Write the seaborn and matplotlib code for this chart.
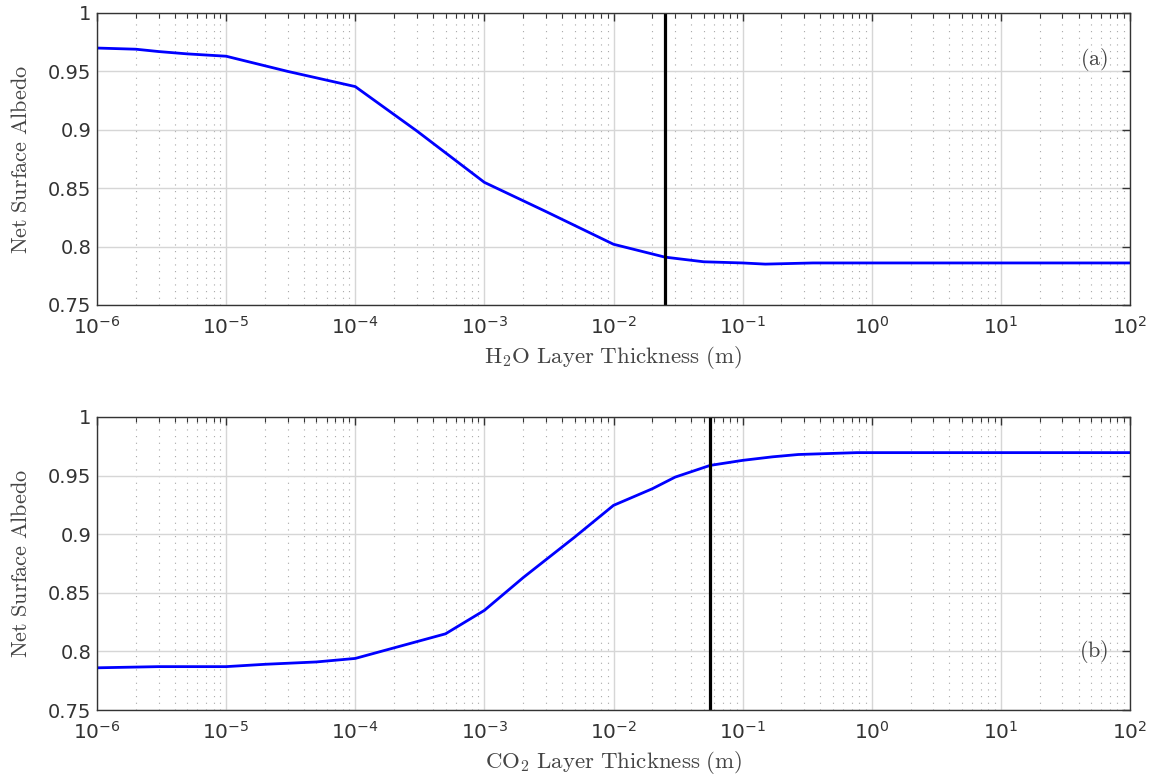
import numpy as np
import pandas as pd
import matplotlib
matplotlib.use("Agg")
import matplotlib.pyplot as plt
import matplotlib.ticker as mticker
import seaborn as sns

# --- Data ---
h2o_thickness = [1e-6, 2e-6, 3e-6, 5e-6, 1e-5, 3e-5, 1e-4, 3e-4, 1e-3, 3e-3, 1e-2,
                 2.5e-2, 5e-2, 1e-1, 1.5e-1, 3.5e-1, 1.0, 10.0, 100.0]
h2o_albedo = [0.970, 0.969, 0.967, 0.965, 0.963, 0.950, 0.937, 0.899, 0.855, 0.830, 0.802,
              0.791, 0.787, 0.786, 0.785, 0.786, 0.786, 0.786, 0.786]

co2_thickness = [1e-6, 3e-6, 1e-5, 2e-5, 5e-5, 1e-4, 5e-4, 1e-3, 2e-3, 5e-3, 1e-2,
                 2e-2, 3e-2, 5.6e-2, 1e-1, 1.7e-1, 2.7e-1, 7.7e-1, 1.0, 10.0, 100.0]
co2_albedo = [0.786, 0.787, 0.787, 0.789, 0.791, 0.794, 0.815, 0.835, 0.863, 0.8975, 0.9246,
              0.9388, 0.9487, 0.9587, 0.963, 0.966, 0.968, 0.9696, 0.9696, 0.9696, 0.9696]

h2o_marker = 0.025
co2_marker = 0.056

xlabels = [r"$\mathrm{H_2O\ Layer\ Thickness\ (m)}$", r"$\mathrm{CO_2\ Layer\ Thickness\ (m)}$"]
ylabel = r"$\mathrm{Net\ Surface\ Albedo}$"
panel_tags = [r"$\mathrm{(a)}$", r"$\mathrm{(b)}$"]
xtick_exponents = [-6, -5, -4, -3, -2, -1, 0, 1, 2]
yticks = [0.75, 0.8, 0.85, 0.9, 0.95, 1.0]
ytick_labels = ["0.75", "0.8", "0.85", "0.9", "0.95", "1"]

sns.set_style("white")
plt.rcParams["font.family"] = ["DejaVu Sans"]

fig = plt.figure(figsize=(11.61, 7.8), dpi=100)
ax1 = fig.add_axes([97/1161, 1-305/780, 1033/1161, 292/780])
ax2 = fig.add_axes([97/1161, 1-710/780, 1033/1161, 293/780])

datasets = [
    (ax1, h2o_thickness, h2o_albedo, h2o_marker, xlabels[0], panel_tags[0], 0.84),
    (ax2, co2_thickness, co2_albedo, co2_marker, xlabels[1], panel_tags[1], 0.20),
]

major_x = [10.0 ** e for e in xtick_exponents]
major_xl = [r"$10^{%d}$" % e for e in xtick_exponents]
minor_x = [m * 10.0 ** e for e in xtick_exponents[:-1] for m in range(2, 10)]

for ax, xs, ys, marker, xl, tag, tagy in datasets:
    df = pd.DataFrame({"x": xs, "y": ys})
    sns.lineplot(data=df, x="x", y="y", ax=ax, color="#0000ff", linewidth=2.0,
                 estimator=None, sort=True)
    ax.axvline(marker, color="black", linewidth=2.3)
    ax.set_xscale("log")
    ax.set_xlim(1e-6, 1e2)
    ax.set_ylim(0.75, 1.0)
    ax.xaxis.set_major_locator(mticker.FixedLocator(major_x))
    ax.xaxis.set_major_formatter(mticker.FixedFormatter(major_xl))
    ax.xaxis.set_minor_locator(mticker.FixedLocator(minor_x))
    ax.xaxis.set_minor_formatter(mticker.NullFormatter())
    ax.yaxis.set_major_locator(mticker.FixedLocator(yticks))
    ax.yaxis.set_major_formatter(mticker.FixedFormatter(ytick_labels))
    ax.yaxis.set_minor_locator(mticker.NullLocator())
    ax.grid(True, which="major", axis="both", color="#d6d6d6", linewidth=1.0, linestyle="-")
    ax.grid(True, which="minor", axis="x", color="#a8a8a8", linewidth=0.8, linestyle=(0, (1, 5)))
    ax.set_axisbelow(True)
    ax.tick_params(axis="both", which="both", direction="in", top=True, right=True,
                   colors="#333333", labelcolor="#333333")
    ax.tick_params(axis="y", which="major", labelsize=14, length=6, width=1.0, pad=4)
    ax.tick_params(axis="x", which="major", labelsize=14.5, length=6, width=1.0, pad=8)
    ax.tick_params(axis="x", which="minor", length=3.5, width=0.8)
    for sp in ax.spines.values():
        sp.set_color("#333333")
        sp.set_linewidth(1.0)
    ax.set_xlabel(xl, fontsize=16.5, color="#444444", math_fontfamily="cm", labelpad=4)
    ax.set_ylabel(ylabel, fontsize=16, color="#444444", math_fontfamily="cm", labelpad=12)
    ax.text(0.965, tagy, tag, transform=ax.transAxes, fontsize=16, color="#444444",
            ha="center", va="center", math_fontfamily="cm")

fig.savefig("out.png", dpi=100)
